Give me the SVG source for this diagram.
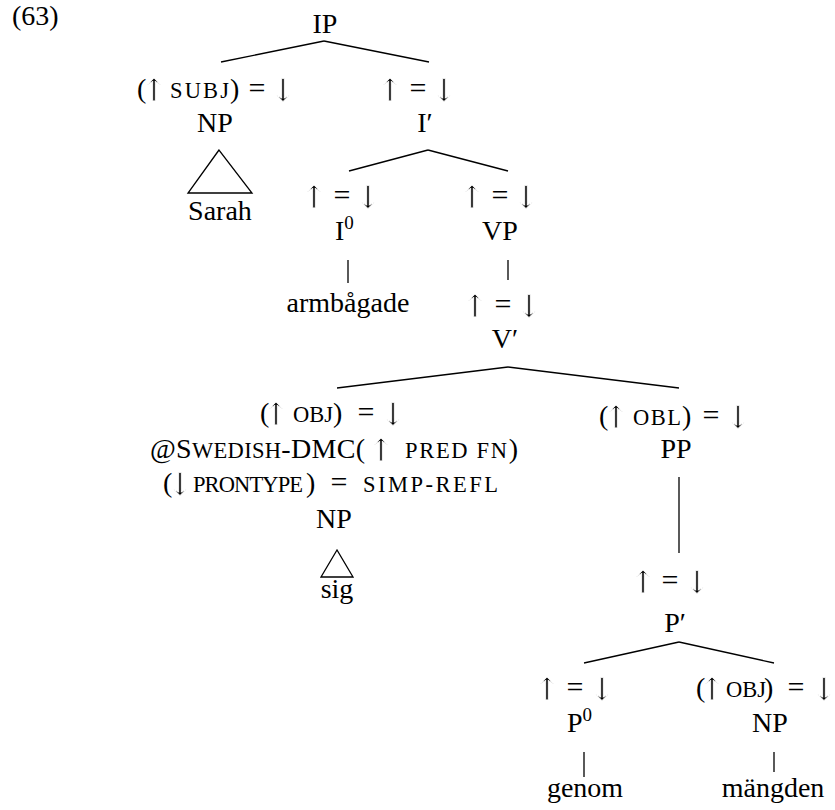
<svg xmlns="http://www.w3.org/2000/svg" width="835" height="810" viewBox="0 0 835 810">
<defs>
<filter id="gs" x="-20%" y="-20%" width="140%" height="140%"><feOffset dx="0" dy="0"/></filter>
</defs>
<style>
text{font-family:"Liberation Serif","Times New Roman",serif;font-size:28px;fill:#000;text-anchor:middle}
.s{text-anchor:start}
.sc{font-size:22.5px}
.sup{font-size:19px}
.eq{font-size:30px}
text.a{font-family:"DejaVu Serif",serif;font-size:31px;stroke:#fff;stroke-width:0.8;filter:url(#gs)}
.e line,.e polygon{stroke:#000;stroke-width:1.3;fill:none}
</style>
<rect width="835" height="810" fill="#fff"/>
<text x="12" y="25" class="s">(63)</text>
<g id="connectors" class="e">
<line x1="324" y1="41" x2="221" y2="62"/>
<line x1="324" y1="41" x2="429" y2="62"/>
<polygon points="219,150 188,193 252,193"/>
<line x1="428" y1="150" x2="349" y2="171"/>
<line x1="428" y1="150" x2="508" y2="171"/>
<line x1="348" y1="260" x2="348" y2="283"/>
<line x1="508" y1="260" x2="508" y2="280"/>
<line x1="508" y1="367" x2="337" y2="388"/>
<line x1="508" y1="367" x2="679" y2="388"/>
<polygon points="337,550 321,577 353,577"/>
<line x1="679" y1="477" x2="679" y2="553"/>
<line x1="679" y1="642" x2="584" y2="663"/>
<line x1="679" y1="642" x2="774" y2="663"/>
<line x1="584" y1="752" x2="584" y2="777"/>
<line x1="774" y1="752" x2="774" y2="772"/>
</g>
<g id="IP"><text x="325" y="33">IP</text></g>
<g id="NP-subj">
<text x="137" y="98" class="s">(</text>
<text x="154" y="101" class="a">↑</text>
<text x="170" y="98" class="s sc" textLength="59" lengthAdjust="spacing">SUBJ</text>
<text x="230" y="98" class="s">)</text>
<text x="257" y="98" class="eq">=</text>
<text x="283" y="101" class="a">↓</text>
<text x="215" y="132">NP</text>
</g>
<g id="Sarah"><text x="220" y="220">Sarah</text></g>
<g id="I-bar">
<text x="390" y="101" class="a">↑</text>
<text x="418" y="98" class="eq">=</text>
<text x="444" y="101" class="a">↓</text>
<text x="425" y="132">I′</text>
</g>
<g id="I0">
<text x="314" y="208" class="a">↑</text>
<text x="342" y="205" class="eq">=</text>
<text x="368" y="208" class="a">↓</text>
<text x="335" y="240" class="s">I<tspan class="sup" dy="-11">0</tspan></text>
</g>
<g id="armbagade"><text x="348" y="312">armbågade</text></g>
<g id="VP">
<text x="472" y="208" class="a">↑</text>
<text x="500" y="205" class="eq">=</text>
<text x="526" y="208" class="a">↓</text>
<text x="500" y="240">VP</text>
</g>
<g id="V-bar">
<text x="475" y="317" class="a">↑</text>
<text x="503" y="314" class="eq">=</text>
<text x="529" y="317" class="a">↓</text>
<text x="505" y="348">V′</text>
</g>
<g id="NP-obj">
<text x="260" y="422" class="s">(</text>
<text x="276" y="425" class="a">↑</text>
<text x="293" y="422" class="s sc">OBJ</text>
<text x="333" y="422" class="s">)</text>
<text x="366" y="422" class="eq">=</text>
<text x="393" y="425" class="a">↓</text>
<text x="150" y="458" class="s" textLength="215" lengthAdjust="spacing">@S<tspan class="sc">WEDISH</tspan>-DMC(</text>
<text x="381" y="461" class="a">↑</text>
<text x="405" y="458" class="s" textLength="113" lengthAdjust="spacing"><tspan class="sc">PRED FN</tspan>)</text>
<text x="163" y="492" class="s">(</text>
<text x="180" y="495" class="a">↓</text>
<text x="193" y="492" class="s sc" textLength="110" lengthAdjust="spacing">PRONTYPE</text>
<text x="306" y="492" class="s">)</text>
<text x="339" y="492" class="eq">=</text>
<text x="363" y="492" class="s sc" textLength="135" lengthAdjust="spacing">SIMP-REFL</text>
<text x="334" y="528">NP</text>
</g>
<g id="sig"><text x="337" y="598">sig</text></g>
<g id="PP">
<text x="599" y="425" class="s">(</text>
<text x="616" y="428" class="a">↑</text>
<text x="633" y="425" class="s sc" textLength="48" lengthAdjust="spacing">OBL</text>
<text x="682" y="425" class="s">)</text>
<text x="711" y="425" class="eq">=</text>
<text x="738" y="428" class="a">↓</text>
<text x="676" y="458">PP</text>
</g>
<g id="P-bar">
<text x="643" y="593" class="a">↑</text>
<text x="670" y="590" class="eq">=</text>
<text x="697" y="593" class="a">↓</text>
<text x="675" y="632">P′</text>
</g>
<g id="P0">
<text x="547" y="700" class="a">↑</text>
<text x="575" y="697" class="eq">=</text>
<text x="602" y="700" class="a">↓</text>
<text x="567" y="732" class="s">P<tspan class="sup" dy="-11">0</tspan></text>
</g>
<g id="genom"><text x="585" y="797">genom</text></g>
<g id="NP-obj2">
<text x="696" y="697" class="s">(</text>
<text x="712" y="700" class="a">↑</text>
<text x="726" y="697" class="s sc">OBJ</text>
<text x="764" y="697" class="s">)</text>
<text x="796" y="697" class="eq">=</text>
<text x="824" y="700" class="a">↓</text>
<text x="770" y="732">NP</text>
</g>
<g id="mangden"><text x="773" y="797">mängden</text></g>
</svg>
